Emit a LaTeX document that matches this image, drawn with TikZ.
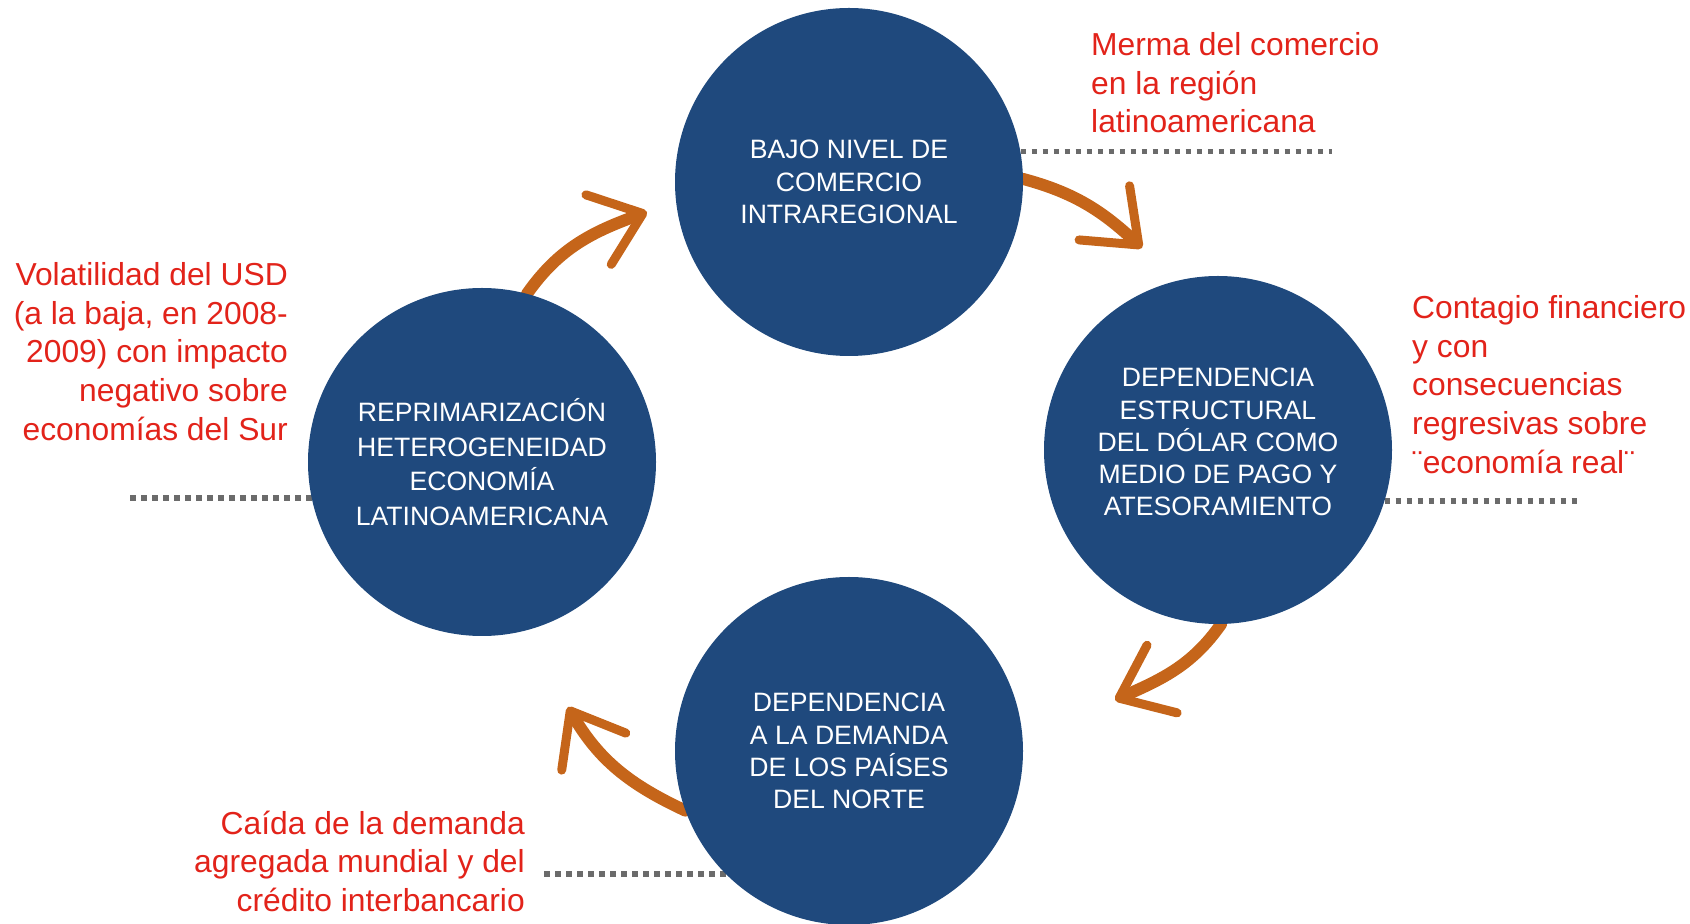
\documentclass[tikz,border=0pt]{standalone}
\usepackage{fontspec}
\setmainfont{Liberation Sans}
\usetikzlibrary{arrows.meta,backgrounds}

\definecolor{azul}{HTML}{1F497D}
\definecolor{naranja}{HTML}{C5651A}
\definecolor{rojo}{HTML}{E2231A}
\definecolor{gris}{HTML}{6B6B6B}

\tikzset{
  circulo/.style={circle, fill=azul, text=white, minimum size=348pt, inner sep=0pt,
    align=center, font=\fontsize{26.6}{32.2}\selectfont},
  nota/.style={text=rojo, inner sep=0pt, font=\fontsize{31.8}{38.6}\selectfont},
  punteado/.style={gris, line width=5.5pt, dash pattern=on 5.5pt off 5.5pt},
  flecha/.style={naranja, line width=12pt, line cap=round,
    -{Straight Barb[length=47pt, width=74pt, line width=9pt 0, round]}}
}

\begin{document}
\begin{tikzpicture}[x=1pt,y=1pt]
  \useasboundingbox (0,0) rectangle (1690,924);

  \node[circulo] (bajo) at (849,742) {BAJO NIVEL DE\\COMERCIO\\INTRAREGIONAL};
  \node[circulo] (dolar) at (1218,474) {DEPENDENCIA\\ESTRUCTURAL\\DEL DÓLAR COMO\\MEDIO DE PAGO Y\\ATESORAMIENTO\rule[-16pt]{0pt}{16pt}};
  \node[circulo] (demanda) at (849,173) {DEPENDENCIA\\A LA DEMANDA\\DE LOS PAÍSES\\DEL NORTE};
  \node[circulo, font=\fontsize{26.6}{34.5}\selectfont] (reprim) at (482,462) {REPRIMARIZACIÓN\\HETEROGENEIDAD\\ECONOMÍA\\LATINOAMERICANA};

  \node[nota, anchor=north west, align=left] (merma) at (1091,891.5) {Merma del comercio\\en la región\\latinoamericana};
  \node[nota, anchor=north west, align=left] (contagio) at (1412,628.5) {Contagio financiero\\y con\\consecuencias\\regresivas sobre\\¨economía real¨};
  \node[nota, anchor=north east, align=right] (volatilidad) at (288,661.5) {Volatilidad del USD\\(a la baja, en 2008-\\2009) con impacto\\negativo sobre\\economías del Sur};
  \node[nota, anchor=north east, align=right] (caida) at (525,113.5) {Caída de la demanda\\agregada mundial y del\\crédito interbancario};

  \coordinate (fin1) at (1332,0);
  \coordinate (fin2) at (1582,0);
  \coordinate (fin3) at (125,0);
  \coordinate (fin4) at (539,0);

  \coordinate (p1) at (647,712);
  \coordinate (p2) at (1142,676);
  \coordinate (p3) at (1115,224);
  \coordinate (p4) at (568,217);

  \begin{scope}[on background layer]
    \draw[punteado] (bajo.10) -- (bajo.10 -| fin1);
    \draw[punteado] (dolar.-17) -- (dolar.-17 -| fin2);
    \draw[punteado] (reprim.192) -- (reprim.192 -| fin3);
    \draw[punteado] (demanda.225) -- (demanda.225 -| fin4);

    \draw[flecha] (reprim.75) to[out=55,in=200] (p1);
    \draw[flecha] (bajo.1) to[out=-15,in=137] (p2);
    \draw[flecha] (dolar.-89) to[out=235,in=24] (p3);
    \draw[flecha] (demanda.200) to[out=155,in=300] (p4);
  \end{scope}
\end{tikzpicture}
\end{document}
